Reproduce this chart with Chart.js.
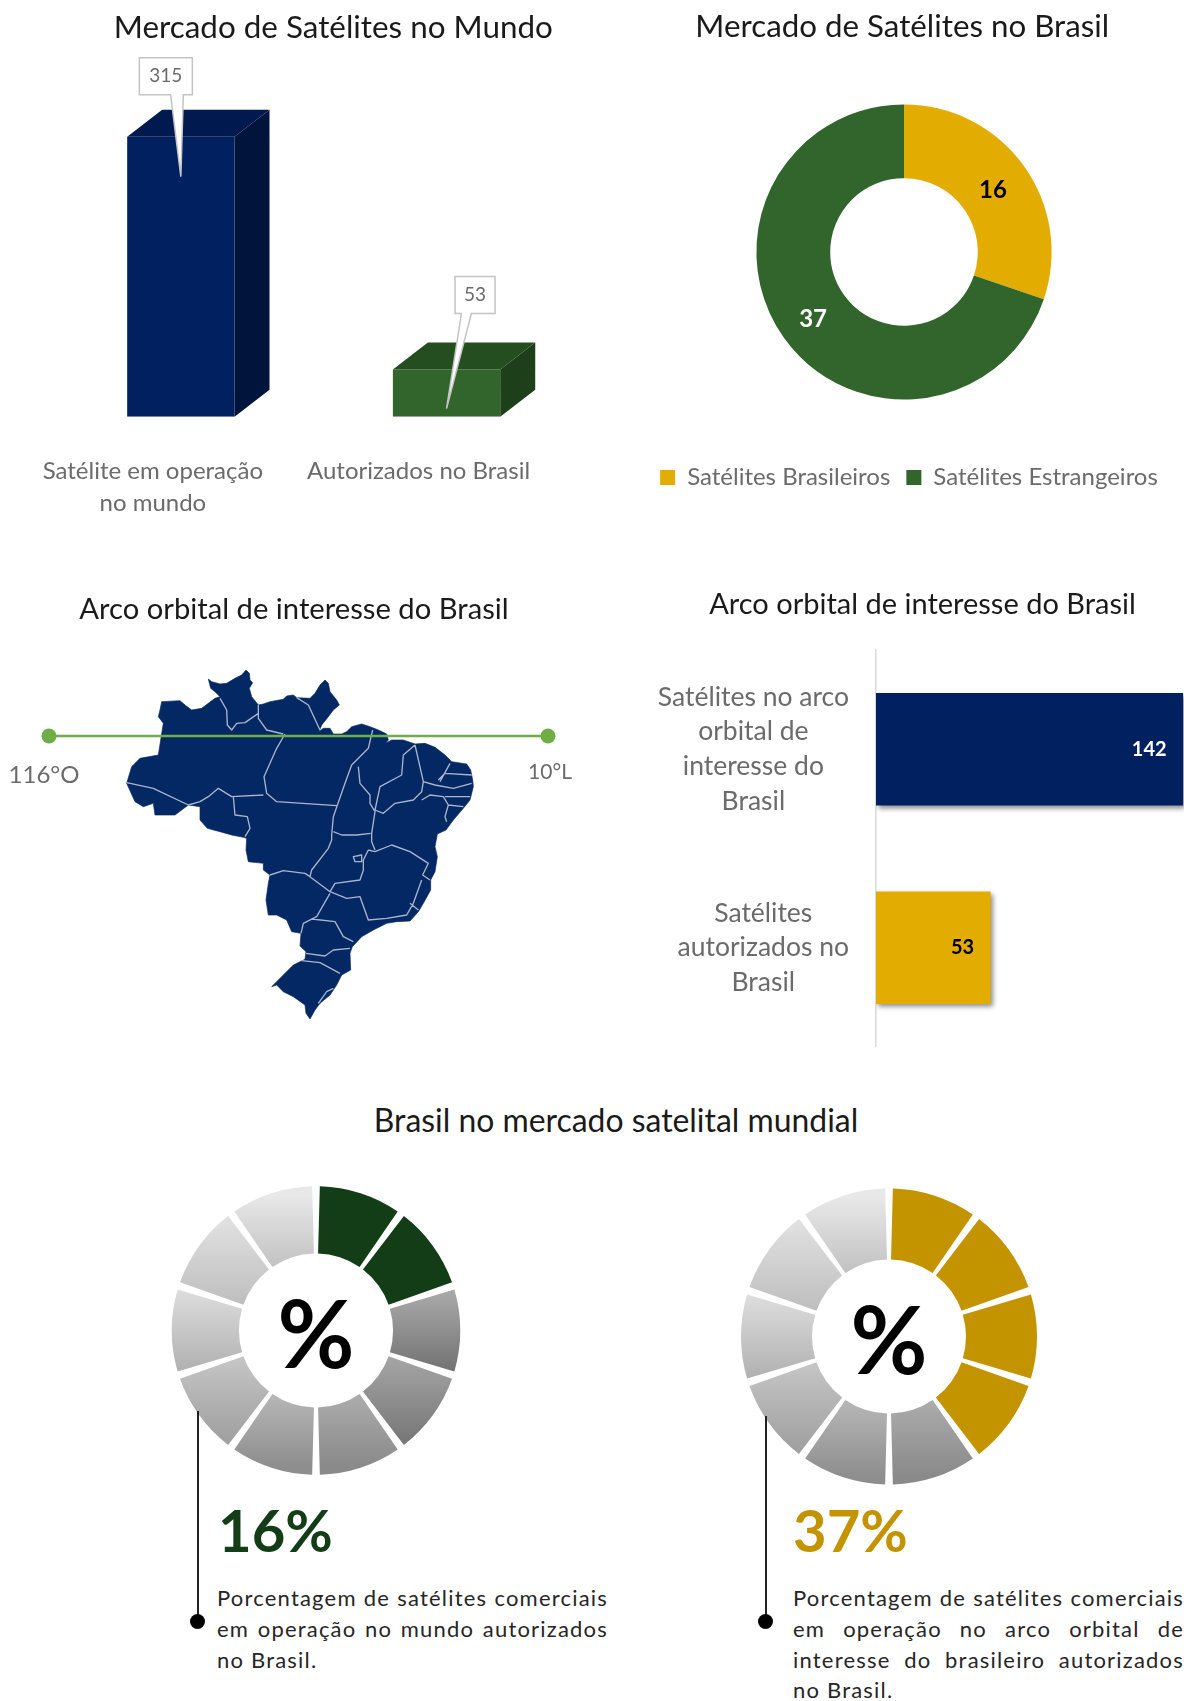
<!DOCTYPE html>
<html lang="pt-BR">
<head>
<meta charset="utf-8">
<title>Mercado de Satélites</title>
<script src="https://cdn.jsdelivr.net/npm/chart.js@4"></script>
<style>
html,body{margin:0;padding:0;background:#fff;width:1184px;height:1701px;overflow:hidden;font-family:Lato,sans-serif}
canvas,svg,.abs{position:absolute;display:block}
.heading{left:116px;width:1000px;top:1099px;text-align:center;font-size:31.9px;line-height:42px;color:#1a1a1a}
.big{font-weight:700;font-size:58px;line-height:60px;top:1500px}
.para{font-size:22px;line-height:30.8px;color:#262626;width:391px;top:1583px;letter-spacing:1.2px}
.para div{text-align:justify;text-align-last:justify;white-space:nowrap}
.para div.last{text-align-last:left}
.lead{width:2px;background:#222}
.dot{width:15px;height:15px;border-radius:50%;background:#000}
</style>
</head>
<body>
<svg style="left:120px;top:660px;filter:blur(.35px)" width="370" height="370" viewBox="0 0 1110 1110">
<path fill="#042863" stroke="#042863" stroke-width="2" stroke-linejoin="round" d="M265 57L275 65L300 72L320 70L345 55L365 45L378 30L388 40L390 60L398 68L388 85L395 110L415 135L430 132L450 125L490 118L500 108L520 105L530 113L570 115L585 100L600 75L615 60L625 70L630 95L650 120L658 135L640 150L625 170L605 195L597 215L610 205L630 205L640 222L665 222L680 215L695 200L725 192L750 200L775 210L800 222L805 240L797 250L815 240L850 240L885 252L915 250L945 262L975 285L995 305L1040 312L1052 330L1058 360L1060 380L1050 420L1030 445L1000 480L978 510L952 522L945 560L952 590L945 635L932 660L932 690L910 730L895 755L870 783L830 785L800 790L760 810L725 830L697 860L690 880L692 930L665 945L650 975L630 1005L600 1030L585 1050L570 1077L558 1060L555 1035L520 1010L490 995L470 975L455 980L490 945L520 915L555 898L558 875L540 858L543 820L515 815L500 780L470 765L445 765L438 720L445 670L450 645L430 630L430 610L385 605L378 570L380 535L370 532L335 525L300 515L262 505L240 480L240 440L205 435L165 465L105 465L100 430L70 440L45 425L20 370L35 320L60 295L115 285L122 240L130 190L115 170L120 150L125 125L180 122L195 135L215 150L245 145L285 115L300 110L285 95L272 85Z"/>
<path fill="none" stroke="#a9b5cd" stroke-width="4" stroke-linejoin="round" d="M20 368L100 385L205 435L240 425L265 410L295 385L335 410L430 405M340 410L345 465L382 470L390 505L375 530M495 222L470 265L432 350L440 400L470 425L650 437M300 115L320 150L322 195L335 210L350 190L375 188L415 160M415 135L415 175L440 210L490 222M530 113L565 135L600 210M758 210L745 265L695 315L675 370L640 470L635 525L635 540L625 565L575 630L570 650L630 695M715 320L720 370L750 405L750 430L765 455L755 520L755 545L765 570M640 515L665 525L710 525L752 520M885 255L850 285L845 345L780 380L765 450L790 460L825 430L880 420L905 395L910 365L885 255M745 570L765 575L815 555L870 575L925 610L908 645L930 660M905 420L930 405L970 410L985 435L975 470L980 485M910 365L945 375L1000 385L1055 370M955 360L975 340L1055 345M960 365L990 310M975 410L1050 410M985 435L1030 440M630 695L645 670L720 660L730 630L730 600L745 570M700 590L725 585L725 605L705 605ZM450 645L490 632L555 640L570 650M630 695L680 715L720 710L745 780L800 775L860 765L880 730L905 660M630 700L590 770L550 790L543 820M575 777L645 785L670 830L700 845M558 880L615 888L640 870L690 865M545 902L600 908L660 940M870 730L895 750M595 1030L620 995L640 985"/>
</svg>
<canvas id="c1" style="left:0;top:0"></canvas>
<canvas id="c2" style="left:620px;top:0"></canvas>
<canvas id="c3" style="left:0;top:560px"></canvas>
<canvas id="c4" style="left:650px;top:570px"></canvas>
<div class="abs heading">Brasil no mercado satelital mundial</div>
<canvas id="c5" style="left:156px;top:1170px"></canvas>
<canvas id="c6" style="left:729px;top:1176px"></canvas>
<div class="abs lead" style="left:197px;top:1411px;height:210px"></div>
<div class="abs dot" style="left:190px;top:1614px"></div>
<div class="abs lead" style="left:765px;top:1416px;height:205px"></div>
<div class="abs dot" style="left:758px;top:1614px"></div>
<div class="abs big" style="left:218px;color:#133d17">16%</div>
<div class="abs big" style="left:793px;color:#c39400">37%</div>
<div class="abs para" style="left:217px">
<div>Porcentagem de satélites comerciais</div>
<div>em operação no mundo autorizados</div>
<div class="last">no Brasil.</div>
</div>
<div class="abs para" style="left:793px">
<div>Porcentagem de satélites comerciais</div>
<div>em operação no arco orbital de</div>
<div>interesse do brasileiro autorizados</div>
<div class="last">no Brasil.</div>
</div>
<script>
// ---------- data ----------
const worldCategories = [["Satélite em operação", "no mundo"], ["Autorizados no Brasil"]];
const worldValues = [315, 53];
const brazilLabels = ["Satélites Brasileiros", "Satélites Estrangeiros"];
const brazilValues = [16, 37];
const arcEndpoints = ["116°O", "10°L"];
const arcLevels = [0, 0];
const arcCategories = [["Satélites no arco", "orbital de", "interesse do", "Brasil"], ["Satélites", "autorizados no", "Brasil"]];
const arcValues = [142, 53];
const ringSlices = [1, 1, 1, 1, 1, 1, 1, 1, 1, 1];
const ringWorldFilled = 2;
const ringArcFilled = 4;

// ---------- styles ----------
const NAVY = "#002060", GOLD = "#e2ac00", GREEN = "#31652b";
const GRAY_TEXT = "#6b6b6b", TITLE = "#1a1a1a";
Chart.defaults.font.family = "Lato, sans-serif";
Chart.defaults.animation = false;
Chart.defaults.responsive = false;
Chart.defaults.plugins.tooltip.enabled = false;
Chart.defaults.plugins.legend.display = false;
const ringGrays = [
  ["#ababab", "#727272"], ["#ababab", "#727272"], ["#ababab", "#727272"], ["#a8a8a8", "#787878"],
  ["#b0b0b0", "#8a8a8a"], ["#bcbcbc", "#8e8e8e"], ["#c8c8c8", "#a0a0a0"], ["#dedede", "#b0b0b0"],
  ["#e0e0e0", "#bcbcbc"], ["#e8e8e8", "#bdbdbd"]
];

function size(id, w, h) { const c = document.getElementById(id); c.width = w; c.height = h; return c; }
function title(text, fontSize, top, bottom) {
  return { display: true, text, color: TITLE, font: { size: fontSize, weight: "400", lineHeight: 1.2 }, padding: { top, bottom } };
}
function titleNudge(dx) {
  return { id: "titleNudge", afterLayout(chart) { chart.titleBlock.left += dx; chart.titleBlock.right += dx; } };
}

// ---------- chart 1: 3-D columns with callouts ----------
const DEPTH = { x: 35, y: 27 };
const barFaces = [
  { top: "#001a4f", side: "#00143c" },
  { top: "#254e20", side: "#1d3f19" }
];
const callouts = [
  { boxDx: -15, boxW: 53, boxH: 37, boxBottomGap: 42, baseA: 0.59, baseB: 0.83, tipDy: 40 },
  { boxDx: 28.5, boxW: 40, boxH: 37, boxBottomGap: 56, baseA: 0.16, baseB: 0.41, tipDy: 39 }
];
const columns3d = {
  id: "columns3d",
  afterDatasetsDraw(chart) {
    const ctx = chart.ctx;
    chart.getDatasetMeta(0).data.forEach((bar, i) => {
      const l = bar.x - bar.width / 2, r = bar.x + bar.width / 2, t = bar.y, b = bar.base;
      ctx.fillStyle = barFaces[i].top;
      ctx.beginPath(); ctx.moveTo(l, t); ctx.lineTo(l + DEPTH.x, t - DEPTH.y); ctx.lineTo(r + DEPTH.x, t - DEPTH.y); ctx.lineTo(r, t); ctx.closePath(); ctx.fill();
      ctx.fillStyle = barFaces[i].side;
      ctx.beginPath(); ctx.moveTo(r, t); ctx.lineTo(r + DEPTH.x, t - DEPTH.y); ctx.lineTo(r + DEPTH.x, b - DEPTH.y); ctx.lineTo(r, b); ctx.closePath(); ctx.fill();
    });
    chart.getDatasetMeta(0).data.forEach((bar, i) => {
      const c = callouts[i];
      const bx = bar.x + c.boxDx - c.boxW / 2, by = bar.y - c.boxBottomGap - c.boxH;
      const boxBottom = by + c.boxH;
      const tipX = bar.x, tipY = bar.y + c.tipDy;
      ctx.fillStyle = "#fff"; ctx.strokeStyle = "#c4c4c4"; ctx.lineWidth = 1.5;
      ctx.beginPath();
      ctx.moveTo(bx, by); ctx.lineTo(bx + c.boxW, by); ctx.lineTo(bx + c.boxW, boxBottom);
      ctx.lineTo(bx + c.boxW * c.baseB, boxBottom); ctx.lineTo(tipX, tipY); ctx.lineTo(bx + c.boxW * c.baseA, boxBottom);
      ctx.lineTo(bx, boxBottom); ctx.closePath(); ctx.fill(); ctx.stroke();
      ctx.fillStyle = GRAY_TEXT; ctx.font = "19px Lato"; ctx.textAlign = "center"; ctx.textBaseline = "middle";
      ctx.fillText(String(worldValues[i]), bx + c.boxW / 2, by + c.boxH / 2);
    });
  }
};
size("c1", 666, 540);
new Chart("c1", {
  type: "bar",
  data: { labels: worldCategories, datasets: [{ data: worldValues, backgroundColor: [NAVY, GREEN], barPercentage: 0.404, categoryPercentage: 1 }] },
  options: {
    layout: { padding: { left: 48, right: 86.6 } },
    plugins: { title: title("Mercado de Satélites no Mundo", 31.4, 8.6, 59.3) },
    scales: {
      y: { display: false, min: 0, max: 350 },
      x: {
        grid: { display: false, drawTicks: false }, border: { display: false },
        afterFit(s) { s.height = 123.3; },
        ticks: { color: GRAY_TEXT, font: { size: 24, lineHeight: 1.3125 }, padding: 39, labelOffset: -28, maxRotation: 0, autoSkip: false }
      }
    }
  },
  plugins: [columns3d, titleNudge(19.6)]
});

// ---------- chart 2: doughnut ----------
const brazilLabelColors = ["#000", "#fff"];
const arcValueLabels = {
  id: "arcValueLabels",
  afterDatasetsDraw(chart) {
    const ctx = chart.ctx;
    chart.getDatasetMeta(0).data.forEach((arc, i) => {
      const p = arc.getCenterPoint();
      ctx.fillStyle = brazilLabelColors[i]; ctx.font = "700 24px Lato"; ctx.textAlign = "center"; ctx.textBaseline = "middle";
      ctx.fillText(String(brazilValues[i]), p.x - 1, p.y + 3);
    });
  }
};
const legendShift = { id: "legendShift", afterLayout(chart) { const l = chart.legend; l.left += 5; l.right += 5; l.top += 49.9; l.bottom += 49.9; } };
size("c2", 564, 520);
new Chart("c2", {
  type: "doughnut",
  data: { labels: brazilLabels, datasets: [{ data: brazilValues, backgroundColor: [GOLD, GREEN], borderWidth: 0, radius: 147.6 }] },
  options: {
    cutout: "50%",
    layout: { padding: { left: 4, bottom: 70.4 } },
    plugins: {
      title: title("Mercado de Satélites no Brasil", 31.3, 8.6, 58.2),
      legend: { display: true, position: "bottom", labels: { boxWidth: 15, boxHeight: 15, padding: 16, color: GRAY_TEXT, font: { size: 24 } } }
    }
  },
  plugins: [arcValueLabels, legendShift, titleNudge(-1.7)]
});

// ---------- chart 3: orbital arc over the map ----------
const endpointStyle = [{ size: 24, dx: -5, dy: 39 }, { size: 21, dx: 2, dy: 36 }];
const endpointLabels = {
  id: "endpointLabels",
  afterDatasetsDraw(chart) {
    const ctx = chart.ctx, x = chart.scales.x, y0 = chart.scales.y.getPixelForValue(0);
    ctx.save(); ctx.fillStyle = GRAY_TEXT; ctx.textAlign = "center"; ctx.textBaseline = "middle";
    arcEndpoints.forEach((t, i) => {
      const s = endpointStyle[i];
      ctx.font = s.size + "px Lato";
      ctx.fillText(t, x.getPixelForTick(i) + s.dx, y0 + s.dy);
    });
    ctx.restore();
  }
};
size("c3", 588, 266);
new Chart("c3", {
  type: "line",
  data: { labels: arcEndpoints, datasets: [{ data: arcLevels, borderColor: "#70ad47", borderWidth: 2.5, pointBackgroundColor: "#70ad47", pointBorderWidth: 0, pointRadius: 7.5, clip: false }] },
  options: {
    layout: { padding: { left: 49, right: 40 } },
    plugins: { title: title("Arco orbital de interesse do Brasil", 29.2, 31.6, 20) },
    scales: {
      y: { display: false, min: -0.14, max: 1 },
      x: { grid: { display: false, drawTicks: false }, border: { display: false }, afterFit(s) { s.height = 77.5; }, ticks: { display: false } }
    }
  },
  plugins: [endpointLabels, titleNudge(-4.5)]
});

// ---------- chart 4: horizontal bars ----------
const hbarLabels = {
  id: "hbarLabels",
  afterDraw(chart) {
    const ctx = chart.ctx, ys = chart.scales.y, LH = 34.7, GAP = 27;
    ctx.save();
    ctx.font = "26.5px Lato"; ctx.fillStyle = GRAY_TEXT; ctx.textAlign = "center"; ctx.textBaseline = "middle";
    arcCategories.forEach((lines, i) => {
      const w = Math.max(...lines.map(t => ctx.measureText(t).width));
      const cx = chart.chartArea.left - GAP - w / 2, cy = ys.getPixelForValue(i);
      lines.forEach((t, k) => ctx.fillText(t, cx, cy + (k - (lines.length - 1) / 2) * LH));
    });
    ctx.font = "700 20px Lato"; ctx.textAlign = "right";
    chart.getDatasetMeta(0).data.forEach((bar, i) => {
      ctx.fillStyle = i === 0 ? "#fff" : "#000";
      ctx.fillText(String(arcValues[i]), bar.x - 16.5, bar.y);
    });
    ctx.restore();
  }
};
const barShadow = {
  id: "barShadow",
  beforeDatasetsDraw(chart) { const c = chart.ctx; c.save(); c.shadowColor = "rgba(0,0,0,.45)"; c.shadowBlur = 5; c.shadowOffsetX = 2; c.shadowOffsetY = 3; },
  afterDatasetsDraw(chart) { chart.ctx.restore(); }
};
size("c4", 545, 477);
new Chart("c4", {
  type: "bar",
  data: { labels: arcCategories, datasets: [{ data: arcValues, backgroundColor: [NAVY, GOLD], barPercentage: 0.568, categoryPercentage: 1 }] },
  options: {
    indexAxis: "y",
    plugins: { title: title("Arco orbital de interesse do Brasil", 29, 17.1, 28.1) },
    scales: {
      x: { display: false, min: 0, max: 147.5 },
      y: {
        afterFit(s) { s.width = 226; },
        grid: { drawOnChartArea: false, drawTicks: false }, border: { display: true, color: "#d9d9d9", width: 1.5 }, ticks: { display: false }
      }
    }
  },
  plugins: [barShadow, hbarLabels]
});

// ---------- rings ----------
function ringFill(filled, solid, cut) {
  return c => {
    const i = c.dataIndex, a = c.chart.chartArea;
    if (!a) return solid;
    if (i < filled) return solid;
    const R = c.dataset.radius, cy = (a.top + a.bottom) / 2, n = ringSlices.length;
    const a0 = i / n * 2 * Math.PI, a1 = (i + 1) / n * 2 * Math.PI;
    let ys = [];
    for (let k = 0; k <= 12; k++) { const t = a0 + (a1 - a0) * k / 12; ys.push(cy - R * Math.cos(t), cy - R * cut * Math.cos(t)); }
    const g = c.chart.ctx.createLinearGradient(0, Math.min(...ys), 0, Math.max(...ys));
    g.addColorStop(0, ringGrays[i][0]); g.addColorStop(1, ringGrays[i][1]);
    return g;
  };
}
const percentCenter = {
  id: "percentCenter",
  afterDatasetsDraw(chart) {
    const a = chart.chartArea, ctx = chart.ctx;
    ctx.save(); ctx.fillStyle = "#000"; ctx.font = "700 94px Lato"; ctx.textAlign = "center"; ctx.textBaseline = "middle";
    ctx.fillText("%", (a.left + a.right) / 2, (a.top + a.bottom) / 2 + 7); ctx.restore();
  }
};
function ring(id, filled, color, radius, cut, paddingTop) {
  size(id, 320, 320);
  new Chart(id, {
    type: "doughnut",
    data: { labels: ringSlices.map((_, i) => String(i + 1)), datasets: [{ data: ringSlices, radius, backgroundColor: ringFill(filled, color, cut), borderWidth: 0, spacing: 18 }] },
    options: { cutout: (cut * 100) + "%", layout: { padding: { top: paddingTop } }, plugins: { title: { display: false } } },
    plugins: [percentCenter]
  });
}
ring("c5", ringWorldFilled, "#133d17", 135.3, 0.503, 1);
ring("c6", ringArcFilled, "#c39400", 139, 0.489, 1);
</script>
</body>
</html>
